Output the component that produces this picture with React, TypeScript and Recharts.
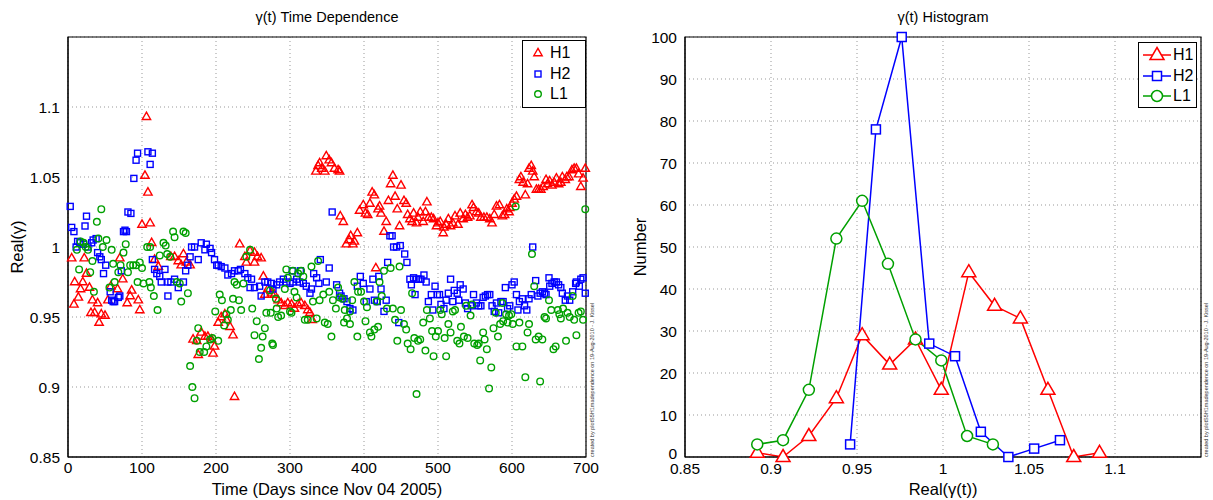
import {
  ScatterChart,
  Scatter,
  LineChart,
  Line,
  XAxis,
  YAxis,
  CartesianGrid,
  ReferenceArea,
} from 'recharts'

const RED = '#ff0000'
const BLUE = '#0000ff'
const GREEN = '#00a000'
const FONT = '"Liberation Sans", Arial, Helvetica, sans-serif'

// gamma(t) vs time, [days since Nov 04 2005, Real(gamma)]
const h1Time: [number, number][] = [
  [5, 0.992], [8, 0.959], [9, 0.975], [14, 0.964], [17, 0.97], [20, 0.975], [22, 0.992], [25, 0.981],
  [29, 0.971], [31, 0.953], [33, 0.962], [36, 0.953], [40, 0.96], [42, 0.946], [45, 0.952], [50, 0.951],
  [54, 0.962], [58, 0.972], [67, 0.97], [70, 0.992], [74, 0.977], [80, 0.96], [84, 0.965], [86, 0.969],
  [95, 0.962], [97, 0.955], [100, 1.016], [104, 1.051], [106, 1.093], [108, 1.039], [111, 1.017], [113, 1.003],
  [117, 0.991], [122, 0.986], [139, 0.993], [144, 0.993], [149, 0.99], [153, 0.987], [156, 0.995], [160, 0.989],
  [165, 0.987], [169, 0.934], [174, 0.933], [176, 0.923], [180, 0.939], [185, 0.936], [189, 0.936], [194, 0.934],
  [196, 0.924], [198, 0.929], [203, 0.946], [207, 0.95], [212, 0.952], [214, 0.948], [219, 0.943], [223, 0.937],
  [225, 0.893], [232, 1.002], [239, 0.993], [241, 0.989], [246, 0.997], [252, 0.996], [252, 0.989], [256, 0.993],
  [261, 0.992], [264, 0.979], [266, 0.966], [270, 0.97], [275, 0.967], [279, 0.966], [284, 0.962], [288, 0.96],
  [293, 0.958], [297, 0.96], [302, 0.959], [306, 0.956], [311, 0.959], [315, 0.96], [320, 0.958], [324, 0.955],
  [327, 0.953], [330, 0.948], [335, 1.054], [338, 1.058], [340, 1.06], [343, 1.056], [347, 1.054], [349, 1.065],
  [353, 1.062], [356, 1.06], [360, 1.056], [365, 1.055], [367, 1.054], [368, 1.022], [372, 1.018], [376, 1.002],
  [380, 1.005], [382, 1.008], [385, 1.002], [387, 1.004], [391, 1.01], [394, 1.026], [399, 1.03], [402, 1.024],
  [405, 1.023], [408, 1.031], [411, 1.039], [414, 1.037], [416, 0.985], [419, 1.027], [421, 1.029], [423, 1.024],
  [427, 1.011], [430, 1.018], [433, 1.033], [436, 1.045], [439, 1.051], [442, 1.036], [445, 1.027], [448, 1.015],
  [450, 1.044], [454, 1.033], [457, 1.031], [459, 1.023], [462, 1.02], [465, 1.018], [467, 1.024], [471, 1.017],
  [473, 1.021], [476, 1.025], [480, 1.018], [483, 1.025], [485, 1.032], [487, 1.021], [491, 1.021], [494, 1.02],
  [498, 1.015], [500, 1.017], [503, 1.018], [507, 1.01], [508, 1.014], [511, 1.016], [514, 1.02], [517, 1.015],
  [520, 1.017], [523, 1.022], [527, 1.016], [530, 1.024], [534, 1.02], [537, 1.023], [540, 1.021], [543, 1.022],
  [546, 1.03], [548, 1.028], [552, 1.025], [555, 1.024], [558, 1.021], [562, 1.021], [566, 1.021], [570, 1.02],
  [573, 1.017], [576, 1.023], [579, 1.029], [583, 1.03], [587, 1.022], [590, 1.023], [593, 1.027], [596, 1.025],
  [597, 1.028], [600, 1.031], [603, 1.034], [606, 1.036], [610, 1.048], [612, 1.05], [615, 1.046], [618, 1.037],
  [621, 1.045], [623, 1.056], [626, 1.058], [628, 1.054], [630, 1.05], [633, 1.041], [636, 1.041], [639, 1.041],
  [642, 1.043], [646, 1.048], [648, 1.045], [651, 1.047], [654, 1.044], [657, 1.046], [660, 1.049], [663, 1.045],
  [666, 1.046], [668, 1.05], [672, 1.048], [674, 1.05], [677, 1.05], [681, 1.055], [684, 1.056], [687, 1.056],
  [690, 1.052], [693, 1.043], [696, 1.049], [699, 1.056],
]

const h2Time: [number, number][] = [
  [3, 1.029], [5, 1.014], [8, 1.011], [11, 1.0], [13, 1.004], [16, 1.003], [21, 1.002], [23, 1.015],
  [25, 1.022], [27, 1.0], [32, 1.003], [34, 1.005], [38, 1.006], [40, 0.996], [43, 0.993], [45, 0.991],
  [48, 0.981], [51, 0.987], [57, 0.968], [59, 0.962], [61, 0.961], [63, 0.961], [68, 0.964], [70, 0.965],
  [72, 0.983], [75, 1.011], [77, 1.012], [79, 1.011], [81, 1.025], [85, 1.024], [89, 1.049], [92, 1.062],
  [94, 1.067], [108, 1.068], [111, 1.059], [114, 1.067], [114, 0.991], [117, 0.984], [120, 0.981], [124, 0.979],
  [126, 0.975], [131, 0.984], [135, 0.975], [135, 0.965], [139, 0.975], [144, 0.977], [149, 0.971], [156, 0.975],
  [159, 0.983], [162, 0.987], [165, 0.993], [167, 1.0], [171, 1.0], [176, 0.991], [180, 1.003], [185, 0.998],
  [187, 1.002], [192, 0.999], [194, 0.996], [198, 0.991], [201, 0.987], [203, 0.987], [207, 0.986], [212, 0.985],
  [216, 0.98], [221, 0.981], [225, 0.983], [230, 0.983], [233, 0.984], [239, 0.981], [243, 0.978], [246, 0.971],
  [248, 0.977], [252, 0.971], [259, 0.972], [261, 0.965], [266, 0.975], [270, 0.975], [275, 0.974], [277, 0.97],
  [282, 0.973], [286, 0.975], [291, 0.977], [295, 0.975], [300, 0.974], [303, 0.983], [304, 0.975], [309, 0.977],
  [313, 0.975], [314, 0.983], [318, 0.974], [322, 0.972], [327, 0.967], [329, 0.97], [332, 0.981], [336, 0.978],
  [339, 0.974], [341, 0.991], [349, 0.975], [353, 0.985], [357, 1.025], [363, 0.973], [367, 0.967], [369, 0.965],
  [373, 0.963], [377, 0.961], [381, 0.956], [385, 0.955], [391, 0.972], [395, 0.979], [399, 0.974], [403, 0.961],
  [408, 0.97], [412, 0.977], [414, 0.962], [418, 0.961], [420, 0.979], [423, 0.97], [427, 0.954], [430, 0.962],
  [432, 0.989], [435, 1.008], [438, 1.008], [440, 1.0], [444, 1.0], [447, 0.946], [449, 1.001], [455, 0.995],
  [458, 0.989], [462, 0.977], [464, 0.973], [467, 0.978], [469, 0.966], [471, 0.977], [474, 0.977], [477, 0.977],
  [481, 0.98], [484, 0.975], [487, 0.961], [491, 0.966], [493, 0.955], [496, 0.972], [499, 0.966], [502, 0.966],
  [504, 0.959], [508, 0.956], [511, 0.962], [514, 0.967], [517, 0.977], [520, 0.961], [522, 0.969], [526, 0.967],
  [528, 0.962], [530, 0.973], [534, 0.97], [537, 0.96], [540, 0.956], [545, 0.958], [548, 0.966], [552, 0.96],
  [555, 0.958], [558, 0.958], [561, 0.964], [564, 0.965], [567, 0.966], [570, 0.966], [573, 0.958], [576, 0.954],
  [579, 0.96], [582, 0.953], [585, 0.961], [588, 0.961], [591, 0.971], [594, 0.956], [597, 0.958], [600, 0.973],
  [603, 0.975], [606, 0.966], [608, 0.955], [610, 0.961], [614, 0.963], [617, 0.958], [620, 0.955], [623, 0.963],
  [626, 0.966], [628, 1.0], [632, 0.976], [635, 0.965], [638, 0.967], [641, 0.968], [644, 0.967], [646, 0.966],
  [650, 0.978], [651, 0.972], [654, 0.974], [657, 0.975], [660, 0.975], [663, 0.973], [666, 0.971], [668, 0.967],
  [672, 0.962], [675, 0.965], [678, 0.962], [682, 0.968], [686, 0.974], [687, 0.975], [691, 0.972], [693, 0.977],
  [696, 0.978], [699, 0.967],
]

const l1Time: [number, number][] = [
  [12, 0.998], [15, 0.984], [17, 1.004], [21, 1.003], [24, 1.0], [27, 0.998], [30, 0.982], [33, 0.99],
  [35, 0.968], [39, 1.018], [41, 1.006], [45, 1.027], [47, 1.0], [52, 1.005], [56, 0.971], [59, 0.998],
  [61, 0.988], [63, 0.975], [68, 0.982], [71, 0.987], [75, 0.996], [78, 1.002], [81, 0.982], [84, 0.987],
  [88, 0.987], [92, 0.987], [94, 0.975], [97, 0.989], [100, 0.985], [102, 0.974], [107, 1.0], [110, 0.975],
  [111, 1.0], [112, 0.971], [116, 0.965], [121, 0.955], [124, 0.994], [129, 1.003], [132, 1.001], [134, 0.995],
  [138, 0.993], [142, 1.011], [144, 1.007], [147, 0.975], [151, 0.974], [153, 0.961], [156, 1.011], [159, 1.01],
  [162, 0.967], [165, 0.915], [168, 0.9], [171, 0.892], [174, 0.933], [176, 0.942], [178, 0.925], [184, 0.925],
  [187, 0.929], [192, 0.934], [195, 0.935], [199, 0.954], [203, 0.933], [205, 0.966], [208, 0.962], [211, 0.944],
  [214, 0.952], [216, 0.948], [220, 0.955], [223, 0.963], [225, 0.975], [228, 0.973], [231, 0.962], [234, 0.955],
  [237, 0.974], [241, 0.993], [246, 0.998], [249, 0.956], [252, 0.937], [255, 0.947], [258, 0.92], [261, 0.928],
  [263, 0.936], [266, 0.942], [268, 0.953], [273, 0.969], [274, 0.953], [276, 0.931], [277, 0.93], [281, 0.963],
  [282, 0.956], [284, 0.95], [288, 0.951], [293, 0.97], [295, 0.984], [297, 0.978], [300, 0.954], [302, 0.953],
  [304, 0.983], [306, 0.968], [309, 0.964], [311, 0.981], [315, 0.983], [318, 0.979], [320, 0.948], [324, 0.948],
  [329, 0.986], [331, 0.961], [336, 0.949], [338, 0.99], [340, 0.962], [345, 0.966], [347, 0.946], [351, 0.945],
  [353, 0.968], [356, 0.936], [358, 0.962], [362, 0.956], [365, 0.971], [367, 0.964], [371, 0.963], [373, 0.946],
  [374, 0.955], [377, 0.949], [381, 0.954], [381, 0.945], [384, 0.962], [387, 0.975], [391, 0.936], [392, 0.968],
  [396, 0.968], [400, 0.961], [402, 0.947], [404, 0.957], [408, 0.939], [410, 0.936], [414, 0.941], [417, 0.961],
  [419, 0.943], [421, 0.975], [424, 0.965], [427, 0.983], [431, 0.956], [436, 0.985], [439, 0.956], [442, 0.948],
  [445, 0.933], [448, 0.986], [450, 0.955], [454, 0.945], [457, 0.941], [459, 0.931], [463, 0.927], [465, 0.967],
  [468, 0.935], [471, 0.895], [473, 0.933], [476, 0.934], [480, 0.946], [483, 0.926], [485, 0.955], [489, 0.949],
  [492, 0.94], [494, 0.922], [497, 0.936], [500, 0.94], [503, 0.955], [505, 0.952], [509, 0.935], [511, 0.922],
  [514, 0.945], [517, 0.939], [520, 0.954], [523, 0.955], [526, 0.933], [529, 0.931], [531, 0.943], [535, 0.936],
  [538, 0.958], [540, 0.935], [544, 0.951], [546, 0.959], [549, 0.931], [553, 0.93], [555, 0.931], [557, 0.919],
  [561, 0.939], [563, 0.934], [566, 0.927], [569, 0.899], [572, 0.914], [575, 0.942], [578, 0.953], [581, 0.936],
  [584, 0.945], [587, 0.96], [588, 0.947], [592, 0.952], [594, 0.946], [596, 0.951], [599, 0.952], [601, 0.945],
  [605, 1.029], [606, 0.929], [610, 0.946], [614, 0.929], [618, 0.907], [621, 0.939], [623, 0.945], [627, 0.995],
  [630, 0.972], [632, 0.934], [636, 0.936], [638, 0.904], [641, 0.934], [644, 0.95], [646, 0.949], [650, 0.962],
  [653, 0.955], [656, 0.927], [659, 0.929], [662, 0.955], [664, 0.952], [666, 0.949], [669, 0.956], [673, 0.933],
  [675, 0.953], [678, 0.95], [682, 0.965], [684, 0.948], [687, 0.937], [690, 0.953], [693, 0.954], [696, 0.948],
  [699, 1.027],
]

// histogram bins (centres) and counts
const h1Bins = [0.892, 0.907, 0.922, 0.938, 0.953, 0.969, 0.984, 0.999, 1.015, 1.03, 1.045, 1.061, 1.076, 1.091]
const h1Counts = [1, 0, 5, 14, 29, 22, 28, 16, 44, 36, 33, 16, 0, 1]
const h2Bins = [0.946, 0.961, 0.976, 0.992, 1.007, 1.022, 1.038, 1.053, 1.068]
const h2Counts = [3, 78, 100, 27, 24, 6, 0, 2, 4]
const l1Bins = [0.892, 0.907, 0.922, 0.938, 0.953, 0.968, 0.984, 0.999, 1.014, 1.029]
const l1Counts = [3, 4, 16, 52, 61, 46, 28, 23, 5, 3]

const timeTicks = [0, 100, 200, 300, 400, 500, 600, 700]
const gammaTicks = [0.85, 0.9, 0.95, 1, 1.05, 1.1]
const histXTicks = [0.85, 0.9, 0.95, 1, 1.05, 1.1]
const histYTicks = [0, 10, 20, 30, 40, 50, 60, 70, 80, 90, 100]

const legendNames = ['H1', 'H2', 'L1']
const legendColors = [RED, BLUE, GREEN]

const credit = 'created by plotS5H1madependence on 19-Aug-2010 - J. Kissel'

const toXY = (pts: [number, number][]) => pts.map(([x, y]) => ({ x, y }))
const toHist = (xs: number[], ns: number[]) => xs.map((x, i) => ({ x, n: ns[i] }))
const fmt = (v: number) => String(Number(v.toFixed(2)))

const tickStyle = { fontSize: 15.5, fill: '#000', fontFamily: FONT }

// y ticks of the histogram; the bottom "0" sits a little higher so it clears "0.85"
function CountTick(p: any) {
  const v = p.payload.value
  return (
    <text
      x={p.x}
      y={p.y}
      dy={v === 0 ? -4 : 0}
      textAnchor="end"
      dominantBaseline="central"
      fontSize={15.5}
      fontFamily={FONT}
      fill="#000"
    >
      {v}
    </text>
  )
}

function Marker({ kind, cx, cy, big }: { kind: number; cx: number; cy: number; big?: boolean }) {
  const sw = big ? 1.5 : 1.4
  if (kind === 0) {
    const w = big ? 7 : 4.2
    const up = big ? 7.5 : 4.7
    const dn = big ? 4.5 : 2.7
    return (
      <polygon
        points={`${cx},${cy - up} ${cx + w},${cy + dn} ${cx - w},${cy + dn}`}
        fill={big ? '#fff' : 'none'}
        stroke={RED}
        strokeWidth={sw}
      />
    )
  }
  if (kind === 1) {
    const h = big ? 4.5 : 3
    return (
      <rect x={cx - h} y={cy - h} width={2 * h} height={2 * h} fill={big ? '#fff' : 'none'} stroke={BLUE} strokeWidth={sw} />
    )
  }
  return <circle cx={cx} cy={cy} r={big ? 5.5 : 3.3} fill={big ? '#fff' : 'none'} stroke={GREEN} strokeWidth={sw} />
}

function LegendBox({ left, top, width, height, lines }: { left: number; top: number; width: number; height: number; lines: boolean }) {
  return (
    <div
      style={{
        position: 'absolute',
        left,
        top,
        width,
        height,
        border: '1px solid #000',
        background: '#fff',
        boxSizing: 'border-box',
      }}
    >
      {legendNames.map((name, i) => (
        <div key={name} style={{ position: 'absolute', left: 0, top: 2 + i * 20.5, height: 20, display: 'flex', alignItems: 'center' }}>
          <svg width={lines ? 34 : 25} height={20}>
            {lines && <line x1={4} y1={10} x2={32} y2={10} stroke={legendColors[i]} strokeWidth={1.5} />}
            <Marker kind={i} cx={lines ? 18 : 15} cy={10} big={lines} />
          </svg>
          <span style={{ fontFamily: FONT, fontSize: 16, marginLeft: lines ? 0 : 2, color: '#000' }}>{name}</span>
        </div>
      ))}
    </div>
  )
}

const textAt = (left: number, top: number, text: string, size: number, rotate = false) => (
  <div
    style={{
      position: 'absolute',
      left,
      top,
      transform: rotate ? 'translate(-50%, -50%) rotate(-90deg)' : 'translate(-50%, -50%)',
      fontFamily: FONT,
      fontSize: size,
      whiteSpace: 'nowrap',
      color: '#000',
    }}
  >
    {text}
  </div>
)

const creditAt = (left: number) => (
  <div
    style={{
      position: 'absolute',
      left,
      top: 457,
      transformOrigin: '0 0',
      transform: 'rotate(-90deg)',
      fontFamily: FONT,
      fontSize: 5.5,
      whiteSpace: 'nowrap',
      color: '#333',
    }}
  >
    {credit}
  </div>
)

export default function App() {
  const series = [h1Time, h2Time, l1Time]
  const hist = [toHist(h1Bins, h1Counts), toHist(h2Bins, h2Counts), toHist(l1Bins, l1Counts)]

  return (
    <div style={{ position: 'absolute', left: 0, top: 0, width: 1213, height: 500, background: '#fff' }}>
      <div style={{ position: 'absolute', left: 0, top: 0 }}>
        <ScatterChart width={600} height={500} margin={{ top: 37, right: 14, bottom: 13, left: 8 }}>
          <CartesianGrid stroke="#999" strokeDasharray="1 3" />
          <XAxis
            type="number"
            dataKey="x"
            domain={[0, 700]}
            ticks={timeTicks}
            tick={tickStyle}
            tickLine={false}
            tickSize={3}
            axisLine={{ stroke: '#000' }}
            height={30}
          />
          <YAxis
            type="number"
            dataKey="y"
            domain={[0.85, 1.15]}
            ticks={gammaTicks}
            tickFormatter={fmt}
            tick={tickStyle}
            tickLine={false}
            axisLine={{ stroke: '#000' }}
            width={60}
          />
          <ReferenceArea x1={0} x2={700} y1={0.85} y2={1.15} fill="none" stroke="#000" strokeWidth={1.2} />
          {series.map((pts, i) => (
            <Scatter
              key={legendNames[i]}
              name={legendNames[i]}
              data={toXY(pts)}
              isAnimationActive={false}
              shape={(p: any) => <Marker kind={i} cx={p.cx} cy={p.cy} />}
            />
          ))}
        </ScatterChart>
      </div>

      <div style={{ position: 'absolute', left: 600, top: 0 }}>
        <LineChart width={613} height={500} margin={{ top: 37, right: 12, bottom: 13, left: 25 }}>
          <CartesianGrid stroke="#999" strokeDasharray="1 3" />
          <XAxis
            type="number"
            dataKey="x"
            domain={[0.85, 1.15]}
            ticks={histXTicks}
            tickFormatter={fmt}
            tick={tickStyle}
            tickLine={false}
            tickSize={4}
            axisLine={{ stroke: '#000' }}
            height={30}
            allowDataOverflow
          />
          <YAxis
            type="number"
            dataKey="n"
            domain={[0, 100]}
            ticks={histYTicks}
            tick={CountTick}
            tickLine={false}
            axisLine={{ stroke: '#000' }}
            width={60}
          />
          <ReferenceArea x1={0.85} x2={1.15} y1={0} y2={100} fill="none" stroke="#000" strokeWidth={1.2} />
          {hist.map((d, i) => (
            <Line
              key={legendNames[i]}
              name={legendNames[i]}
              data={d}
              dataKey="n"
              type="linear"
              stroke={legendColors[i]}
              strokeWidth={1.5}
              isAnimationActive={false}
              dot={(p: any) => <Marker key={`${i}-${p.index}`} kind={i} cx={p.cx} cy={p.cy} big />}
              activeDot={false}
            />
          ))}
        </LineChart>
      </div>

      {textAt(327, 17, 'γ(t) Time Dependence', 14.5)}
      {textAt(943, 17, 'γ(t) Histogram', 14.5)}
      {textAt(327, 489, 'Time (Days since Nov 04 2005)', 16.5)}
      {textAt(943, 489, 'Real(γ(t))', 16.5)}
      {textAt(17, 247, 'Real(γ)', 16.5, true)}
      {textAt(640, 247, 'Number', 16.5, true)}
      {creditAt(589)}
      {creditAt(1203)}

      <LegendBox left={522} top={40} width={64} height={68} lines={false} />
      <LegendBox left={1138} top={42} width={59} height={66} lines />
    </div>
  )
}
